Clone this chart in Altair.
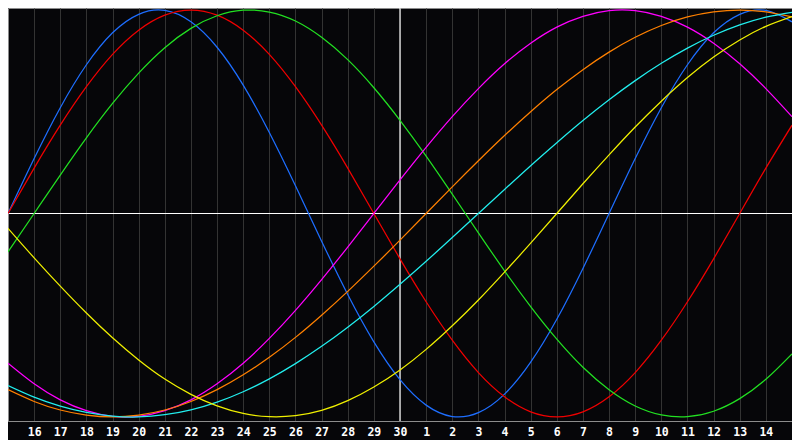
import altair as alt
import pandas as pd

# day index 0..30 (index 15 = day 30, the "today" line)
days = list(range(31))
day_labels = ["16", "17", "18", "19", "20", "21", "22", "23", "24", "25", "26", "27", "28", "29", "30",
              "1", "2", "3", "4", "5", "6", "7", "8", "9", "10", "11", "12", "13", "14"]
label_positions = list(range(1, 30))

physical = [0, 27.0, 52.0, 73.1, 88.8, 97.9, 99.8, 94.2, 81.7, 63.1, 39.8, 13.6, -13.6, -39.8, -63.1, -81.7,
            -94.2, -99.8, -97.9, -88.8, -73.1, -52.0, -27.0, 0, 27.0, 52.0, 73.1, 88.8, 97.9, 99.8, 94.2]
emotional = [0, 22.3, 43.4, 62.3, 78.2, 90.1, 97.5, 100, 97.5, 90.1, 78.2, 62.3, 43.4, 22.3, 0, -22.3,
             -43.4, -62.3, -78.2, -90.1, -97.5, -100, -97.5, -90.1, -78.2, -62.3, -43.4, -22.3, 0, 22.3, 43.4]
intellectual = [-18.9, 0, 18.9, 37.2, 54.1, 69.0, 81.5, 91.0, 97.2, 99.9, 99.0, 94.6, 86.6, 75.6, 61.8, 45.8,
                28.2, 9.5, -9.5, -28.2, -45.8, -61.8, -75.6, -86.6, -94.6, -99.0, -99.9, -97.2, -91.0, -81.5, -69.0]
intuitive = [-73.6, -83.7, -91.6, -96.9, -99.7, -99.7, -96.9, -91.6, -83.7, -73.6, -61.4, -47.6, -32.5, -16.5, 0, 16.5,
             32.5, 47.6, 61.4, 73.6, 83.7, 91.6, 96.9, 99.7, 99.7, 96.9, 91.6, 83.7, 73.6, 61.4, 47.6]
awareness = [-86.6, -92.4, -96.6, -99.1, -100, -99.1, -96.6, -92.4, -86.6, -79.3, -70.7, -60.9, -50.0, -38.3, -25.9, -13.1,
             0, 13.1, 25.9, 38.3, 50.0, 60.9, 70.7, 79.3, 86.6, 92.4, 96.6, 99.1, 100, 99.1, 96.6]
spiritual = [-84.6, -90.3, -94.7, -97.8, -99.6, -100.0, -98.9, -96.5, -92.7, -87.6, -81.3, -73.8, -65.3, -55.9, -45.7, -34.8,
             -23.5, -11.8, 0, 11.8, 23.5, 34.8, 45.7, 55.9, 65.3, 73.8, 81.3, 87.6, 92.7, 96.5, 98.9]
aesthetic = [-7.3, -21.8, -35.7, -48.9, -61.1, -72.0, -81.4, -88.9, -94.6, -98.3, -99.9, -99.4, -96.8, -92.0, -85.3, -76.9,
             -66.8, -55.2, -42.5, -28.8, -14.6, 0, 14.6, 28.8, 42.5, 55.2, 66.8, 76.9, 85.3, 92.0, 96.8]

series_names = ["Physical", "Emotional", "Intellectual", "Intuitive", "Awareness", "Spiritual", "Aesthetic"]
series_values = [physical, emotional, intellectual, intuitive, awareness, spiritual, aesthetic]
series_colors = ["#1e6eff", "#f00000", "#22e022", "#ff00ff", "#ff8000", "#22eeee", "#f0f000"]

today_index = 15

rows = []
for name, vals in zip(series_names, series_values):
    for d, v in zip(days, vals):
        rows.append({"day": d, "series": name, "value": v})
df = pd.DataFrame(rows)

label_array = "[" + ",".join("'" + s + "'" for s in day_labels) + "]"
x_scale = alt.Scale(domain=[0, 30], nice=False, zero=False)
y_scale = alt.Scale(domain=[-102, 101], nice=False, zero=False)
x_axis = alt.Axis(values=label_positions, labelExpr=label_array + "[datum.value - 1]", grid=True,
                  ticks=False, title=None, labelOverlap=False, labelFlush=False)

vrule = alt.Chart(pd.DataFrame({"day": [today_index]})).mark_rule(color="#ffffff", strokeWidth=1.2).encode(
    x=alt.X("day:Q", scale=x_scale, axis=x_axis)
)
hrule = alt.Chart(pd.DataFrame({"value": [0]})).mark_rule(color="#ffffff", strokeWidth=1.2).encode(
    y=alt.Y("value:Q", scale=y_scale, axis=None)
)
lines = alt.Chart(df).mark_line(strokeWidth=1.25, interpolate="natural").encode(
    x=alt.X("day:Q", scale=x_scale, axis=x_axis),
    y=alt.Y("value:Q", scale=y_scale, axis=None),
    color=alt.Color("series:N", scale=alt.Scale(domain=series_names, range=series_colors), legend=None),
    detail="series:N",
)

chart = alt.layer(vrule, hrule, lines).properties(
    width=784,
    height=413,
    background="#060609",
    padding={"left": 0, "top": 0, "right": 0, "bottom": 19},
    autosize=alt.AutoSizeParams(type="none"),
).configure_view(
    stroke="#8c8c8c", strokeWidth=1, fill="#060609"
).configure_axis(
    labelColor="#ffffff",
    labelFont="DejaVu Sans Mono",
    labelFontWeight="bold",
    labelFontSize=11.5,
    labelPadding=5,
    labelAngle=0,
    domainColor="#8c8c8c",
    gridColor="#333333",
    gridOpacity=1,
    gridWidth=1,
)

chart.save("out.html", embed_options={"renderer": "svg", "actions": False})
